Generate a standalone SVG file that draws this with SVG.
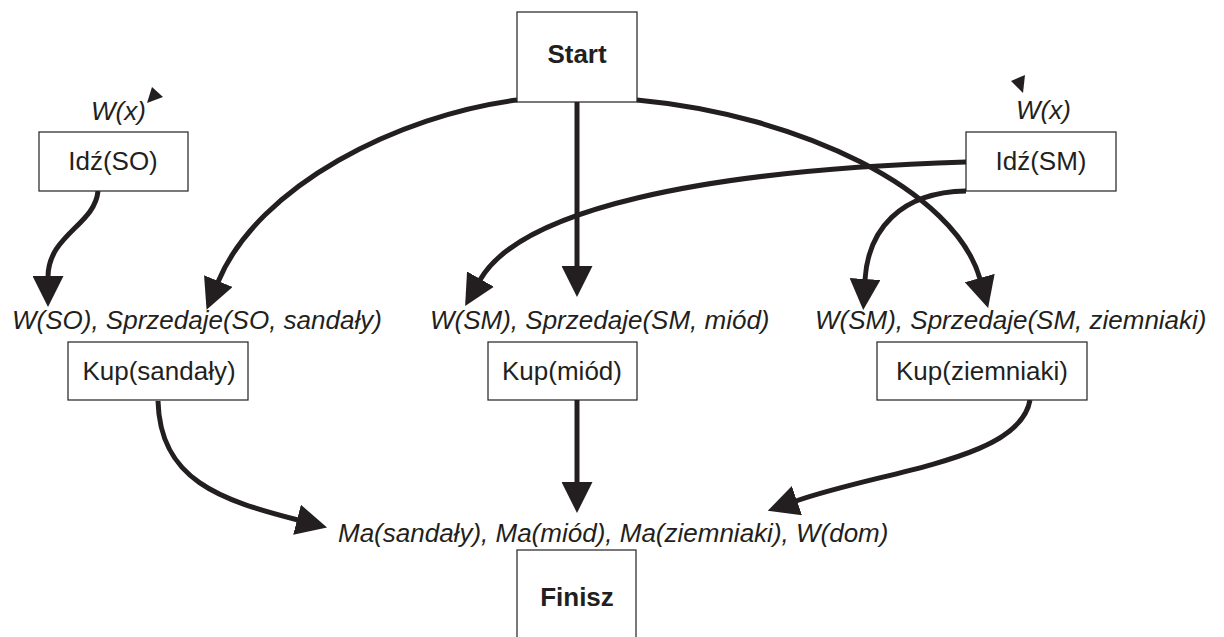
<svg xmlns="http://www.w3.org/2000/svg" width="1224" height="637" viewBox="0 0 1224 637">
<style>
.box{fill:#fff;stroke:#231f20;stroke-width:1.2}
.t{font-family:"Liberation Sans",Arial,sans-serif;font-size:26px;fill:#231f20}
.c{text-anchor:middle}
.i{font-style:italic}
.b{font-weight:bold}
.e{fill:none;stroke:#231f20;stroke-width:5}
.tri{fill:#231f20}
</style>
<defs>
<marker id="ah" markerUnits="userSpaceOnUse" markerWidth="31" markerHeight="31" viewBox="0 0 31 31" refX="1" refY="15.5" orient="auto">
<path d="M0,0 L31,15.5 L0,31 z" fill="#231f20"/>
</marker>
</defs>
<rect width="1224" height="637" fill="#fff"/>
<g id="connectors">
<path class="e" d="M98,191 C95,225 48,235 48,277" marker-end="url(#ah)"/>
<path class="e" d="M517,100 C400,115 258,185 218,282" marker-end="url(#ah)"/>
<path class="e" d="M577,102 L577,267" marker-end="url(#ah)"/>
<path class="e" d="M966,162 C700,170 520,210 480,280" marker-end="url(#ah)"/>
<path class="e" d="M637,100 C800,115 955,190 980,279" marker-end="url(#ah)"/>
<path class="e" d="M966,191 C900,192 868,230 865,280" marker-end="url(#ah)"/>
<path class="e" d="M158,401 C160,480 220,500 298,520" marker-end="url(#ah)"/>
<path class="e" d="M577,400 L577,483" marker-end="url(#ah)"/>
<path class="e" d="M1030,400 C1020,460 885,470 796,501" marker-end="url(#ah)"/>
</g>
<g id="start">
<rect class="box" x="517" y="12" width="120" height="90"/>
<text class="t c b" x="577" y="63">Start</text>
</g>
<g id="ids-so">
<text class="t i" x="91" y="120">W(x)</text>
<polygon class="tri" points="152,87 163,97 147,103"/>
<rect class="box" x="39" y="132" width="149" height="59"/>
<text class="t c" x="113" y="170">Idź(SO)</text>
</g>
<g id="ids-sm">
<text class="t i" x="1016" y="119">W(x)</text>
<polygon class="tri" points="1011,81 1025,75 1023,93"/>
<rect class="box" x="966" y="132" width="150" height="59"/>
<text class="t c" x="1041" y="170">Idź(SM)</text>
</g>
<g id="kup-sandaly">
<text class="t i" x="12" y="329">W(SO), Sprzedaje(SO, sandały)</text>
<rect class="box" x="68" y="342" width="180" height="58"/>
<text class="t c" x="159" y="380">Kup(sandały)</text>
</g>
<g id="kup-miod">
<text class="t i" x="430" y="329">W(SM), Sprzedaje(SM, miód)</text>
<rect class="box" x="488" y="342" width="149" height="58"/>
<text class="t c" x="562" y="380">Kup(miód)</text>
</g>
<g id="kup-ziemniaki">
<text class="t i" x="815" y="329">W(SM), Sprzedaje(SM, ziemniaki)</text>
<rect class="box" x="877" y="342" width="210" height="58"/>
<text class="t c" x="982" y="380">Kup(ziemniaki)</text>
</g>
<g id="finisz">
<text class="t i" x="338" y="542">Ma(sandały), Ma(miód), Ma(ziemniaki), W(dom)</text>
<rect class="box" x="517" y="550" width="119" height="100"/>
<text class="t c b" x="577" y="606">Finisz</text>
</g>
</svg>
